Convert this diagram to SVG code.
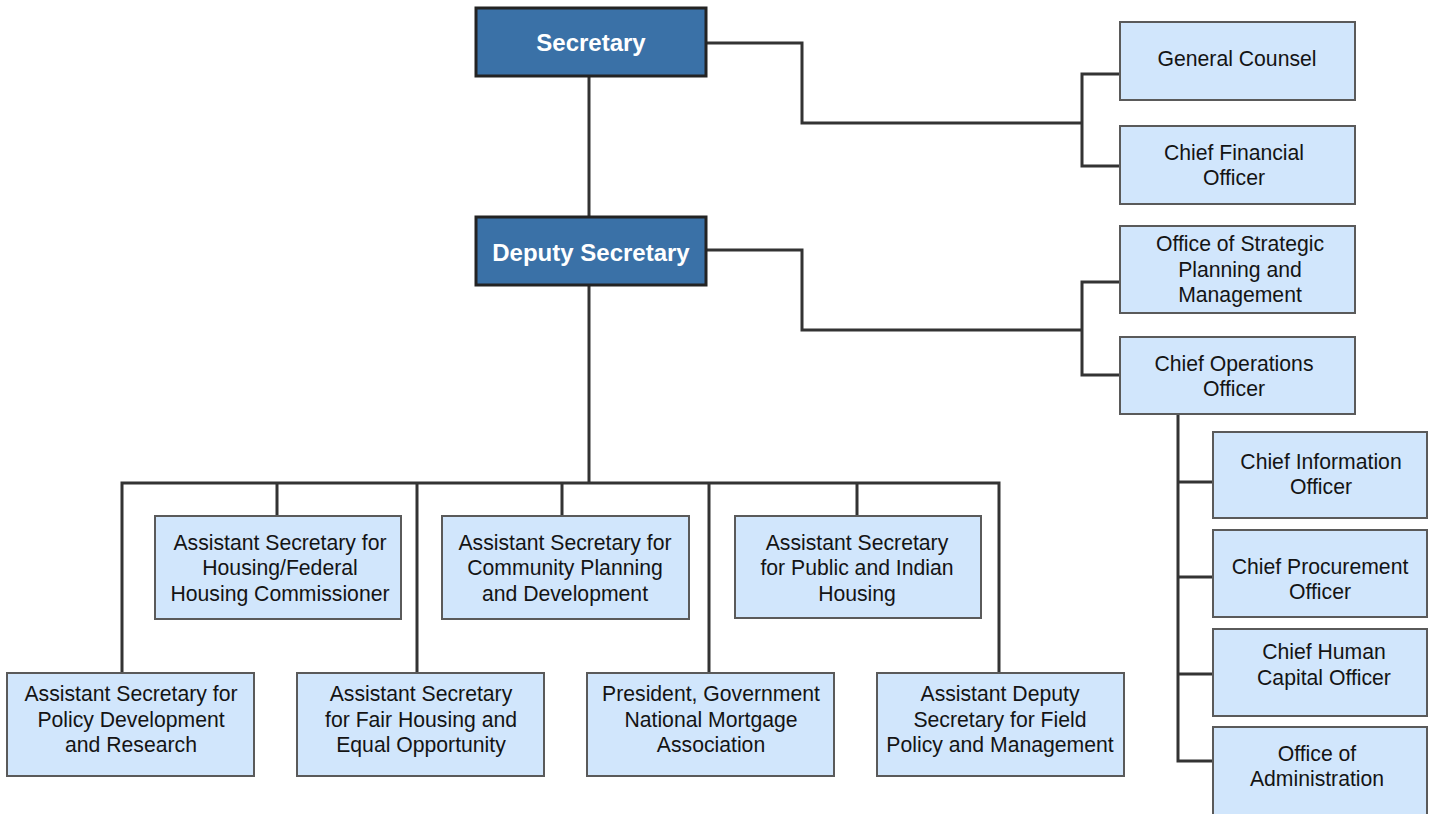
<svg xmlns="http://www.w3.org/2000/svg" width="1436" height="814" viewBox="0 0 1436 814">
<style>
.bg{fill:#ffffff}
.box{fill:#d1e6fc;stroke:#5a5a5a;stroke-width:2}
.top{fill:#3a71a7;stroke:#232323;stroke-width:3}
.t{font-family:"Liberation Sans",Arial,sans-serif;font-size:21.2px;fill:#141414;text-anchor:middle}
.tb{font-family:"Liberation Sans",Arial,sans-serif;font-size:24px;font-weight:bold;fill:#ffffff;text-anchor:middle}
.c{fill:none;stroke:#333333;stroke-width:3}
</style>
<rect class="bg" width="1436" height="814"/>
<g id="connectors">
<path class="c" d="M589 76 V217"/>
<path class="c" d="M706 43 H802 V123 H1082"/>
<path class="c" d="M1120 74 H1082 V166 H1120"/>
<path class="c" d="M706 250 H802 V330 H1082"/>
<path class="c" d="M1120 282 H1082 V375 H1120"/>
<path class="c" d="M1178 414 V761 H1213"/>
<path class="c" d="M1178 482 H1213 M1178 577 H1213 M1178 674 H1213"/>
<path class="c" d="M589 285 V483"/>
<path class="c" d="M122 673 V483 H999 V673"/>
<path class="c" d="M277 483 V516 M417 483 V673 M562 483 V516 M709 483 V673 M857 483 V516"/>
</g>
<g id="secretary"><rect class="top" x="476" y="8" width="230" height="68"/><text class="tb" x="591" y="51">Secretary</text></g>
<g id="deputy"><rect class="top" x="476" y="217" width="230" height="68"/><text class="tb" x="591" y="261">Deputy Secretary</text></g>
<g id="general-counsel"><rect class="box" x="1120" y="22" width="235" height="78"/><text class="t" x="1237" y="66">General Counsel</text></g>
<g id="cfo"><rect class="box" x="1120" y="126" width="235" height="78"/><text class="t" x="1234" y="160">Chief Financial</text><text class="t" x="1234" y="185">Officer</text></g>
<g id="ospm"><rect class="box" x="1120" y="226" width="235" height="87"/><text class="t" x="1240" y="251">Office of Strategic</text><text class="t" x="1240" y="277">Planning and</text><text class="t" x="1240" y="302">Management</text></g>
<g id="coo"><rect class="box" x="1120" y="337" width="235" height="77"/><text class="t" x="1234" y="371">Chief Operations</text><text class="t" x="1234" y="396">Officer</text></g>
<g id="cio"><rect class="box" x="1213" y="432" width="214" height="86"/><text class="t" x="1321" y="469">Chief Information</text><text class="t" x="1321" y="494">Officer</text></g>
<g id="cpo"><rect class="box" x="1213" y="530" width="214" height="87"/><text class="t" x="1320" y="574">Chief Procurement</text><text class="t" x="1320" y="599">Officer</text></g>
<g id="chco"><rect class="box" x="1213" y="629" width="214" height="87"/><text class="t" x="1324" y="659">Chief Human</text><text class="t" x="1324" y="685">Capital Officer</text></g>
<g id="admin"><rect class="box" x="1213" y="727" width="214" height="100"/><text class="t" x="1317" y="761">Office of</text><text class="t" x="1317" y="786">Administration</text></g>
<g id="housing"><rect class="box" x="155" y="516" width="246" height="103"/><text class="t" x="280" y="550">Assistant Secretary for</text><text class="t" x="280" y="575">Housing/Federal</text><text class="t" x="280" y="601">Housing Commissioner</text></g>
<g id="cpd"><rect class="box" x="442" y="516" width="247" height="103"/><text class="t" x="565" y="550">Assistant Secretary for</text><text class="t" x="565" y="575">Community Planning</text><text class="t" x="565" y="601">and Development</text></g>
<g id="pih"><rect class="box" x="735" y="516" width="246" height="102"/><text class="t" x="857" y="550">Assistant Secretary</text><text class="t" x="857" y="575">for Public and Indian</text><text class="t" x="857" y="601">Housing</text></g>
<g id="pdr"><rect class="box" x="7" y="673" width="247" height="103"/><text class="t" x="131" y="701">Assistant Secretary for</text><text class="t" x="131" y="727">Policy Development</text><text class="t" x="131" y="752">and Research</text></g>
<g id="fheo"><rect class="box" x="297" y="673" width="247" height="103"/><text class="t" x="421" y="701">Assistant Secretary</text><text class="t" x="421" y="727">for Fair Housing and</text><text class="t" x="421" y="752">Equal Opportunity</text></g>
<g id="ginnie"><rect class="box" x="587" y="673" width="247" height="103"/><text class="t" x="711" y="701">President, Government</text><text class="t" x="711" y="727">National Mortgage</text><text class="t" x="711" y="752">Association</text></g>
<g id="field"><rect class="box" x="877" y="673" width="247" height="103"/><text class="t" x="1000" y="701">Assistant Deputy</text><text class="t" x="1000" y="727">Secretary for Field</text><text class="t" x="1000" y="752">Policy and Management</text></g>
</svg>
